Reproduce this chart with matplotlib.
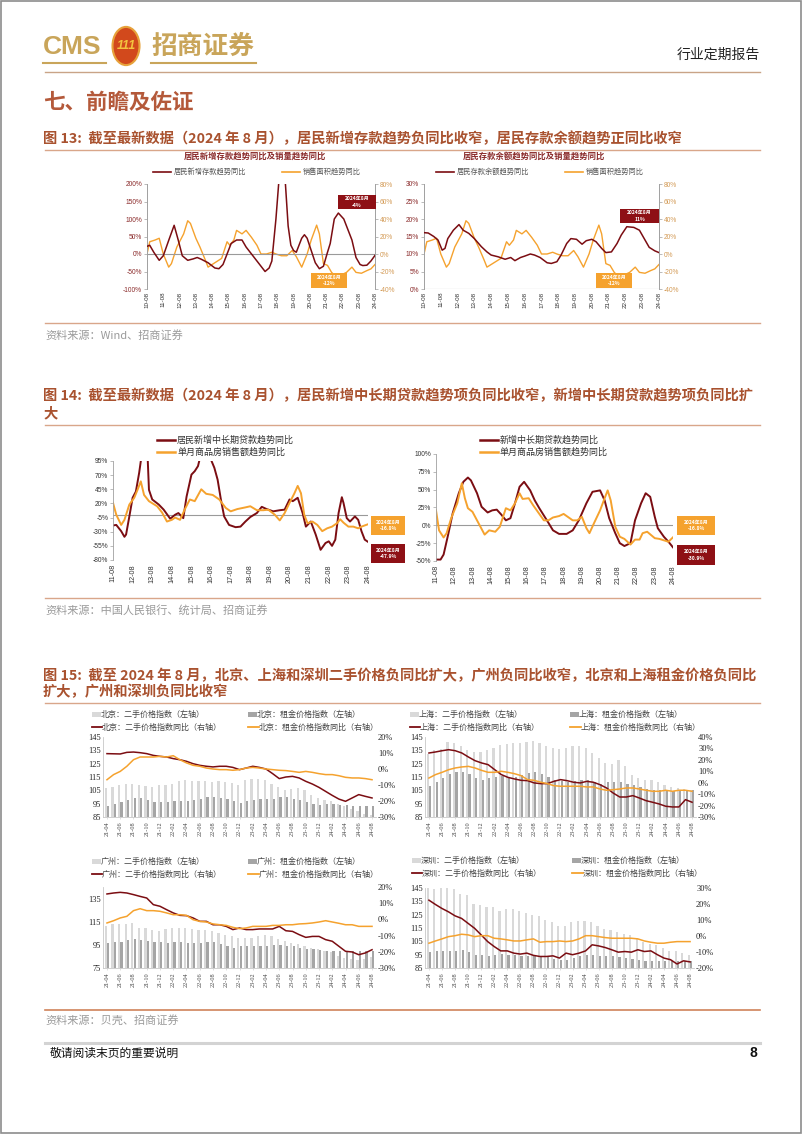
import matplotlib
matplotlib.use("Agg")
import matplotlib.pyplot as plt
from matplotlib.patches import Rectangle, Circle
from matplotlib.lines import Line2D
import numpy as np

plt.rcParams['font.family'] = ['Noto Sans CJK SC', 'DejaVu Sans']
plt.rcParams['axes.unicode_minus'] = False

W, H = 802, 1134
RED = "#7B0D12"
ORANGE = "#F5A22E"
LIGHT = "#D9D9D9"
DARK = "#A5A5A5"
GOLD = "#C9A55A"
TITLE_C = "#A9522F"
TICK_RED = "#8A2A2A"
TICK_ORG = "#D39A55"
NUMF = "Liberation Sans"
SERIF = "Liberation Serif"

# ---------------- data: figure 13 (months since 2010-08) ----------------
labels13 = ["10-08", "11-08", "12-08", "13-08", "14-08", "15-08", "16-08", "17-08",
            "18-08", "19-08", "20-08", "21-08", "22-08", "23-08", "24-08"]
dep_new_m = [0, 2, 5, 9, 12, 16, 20, 23, 26, 30, 34, 37, 40, 45, 50, 53, 56, 58, 62, 66,
             70, 73, 78, 83, 87, 90, 92, 95, 97, 99, 102, 104, 106, 108, 110, 112, 114, 116,
             118, 121, 124, 127, 130, 133, 135, 138, 141, 145, 148, 151, 154, 157, 159, 162,
             165, 168]
dep_new_v = [22, 25, 5, -18, -5, 39, 82, 40, -5, -18, -14, -10, -15, -25, -40, -42, -30, -10,
             30, 40, 40, 20, -5, -30, -50, -40, -20, 100, 200, 300, 200, 80, 25, 10, 5, 25, 45,
             55, 45, 10, -25, -42, -35, 5, 30, 100, 117, 100, 70, 40, -10, -30, -33, -32, -20, -4]
dep_bal_m = [0, 3, 7, 10, 13, 15, 17, 21, 25, 28, 32, 36, 41, 45, 48, 53, 58, 62, 65, 69, 72,
             76, 79, 83, 88, 91, 95, 98, 102, 105, 109, 113, 116, 120, 123, 127, 130, 134, 138,
             141, 145, 150, 154, 158, 161, 165, 168]
dep_bal_v = [16.1, 16.0, 15.0, 14.0, 11.1, 11.6, 14.4, 16.8, 18.4, 16.8, 15.9, 14.4, 12.1,
             10.6, 9.7, 9.2, 8.5, 9.0, 8.1, 9.0, 9.4, 10.0, 9.7, 9.0, 7.5, 7.3, 7.8, 9.7, 13.0,
             14.4, 14.2, 12.8, 13.8, 14.2, 13.5, 11.6, 10.4, 10.6, 13.0, 15.4, 17.8, 17.6, 16.8,
             14.0, 11.9, 10.9, 10.4]
area_m = [0, 2, 6, 9, 12, 16, 18, 22, 27, 30, 32, 36, 39, 43, 45, 49, 53, 55, 59, 61, 64, 66,
          70, 73, 77, 81, 84, 88, 92, 95, 99, 103, 107, 110, 114, 118, 121, 125, 127, 130, 133,
          136, 140, 143, 147, 151, 154, 158, 162, 165, 168]
area_v = [0, 14, 16, 18, 0, -15, -11, 8, 23, 38, 35, 18, 8, -7, -15, -11, -7, -5, 14, 10, 16,
          27, 23, 27, 19, 10, 0, 0, 2, 0, -2, -2, 4, -3, -15, 0, 16, 33, 23, -11, -13, -21, -27,
          -24, -21, -15, -21, -22, -19, -17, -12]

# ---------------- data: figure 14 (months since 2011-08) ----------------
labels14 = ["11-08", "12-08", "13-08", "14-08", "15-08", "16-08", "17-08", "18-08",
            "19-08", "20-08", "21-08", "22-08", "23-08", "24-08"]
hh_loan_m = [0, 2, 5, 7, 8, 10, 12, 14, 16, 18, 21, 22, 24, 28, 31, 35, 38, 40, 43, 45, 48,
             50, 52, 54, 57, 60, 62, 64, 66, 68, 71, 75, 78, 81, 84, 88, 91, 94, 98, 102, 105,
             108, 110, 113, 116, 118, 121, 124, 127, 130, 132, 134, 136, 138, 140, 141, 143,
             145, 148, 150, 152, 154, 156]
hh_loan_v = [-19, -18, -29, -39, -35, -3, 30, 41, 74, 115, 115, 44, 27, 18, 9, -7, 0, 3, -6,
             32, 71, 77, 86, 110, 110, 97, 83, 62, 27, -3, -18, -22, -21, -12, -4, 3, 14, 10, 6,
             8, 9, 27, 24, 30, 3, -21, -12, -35, -62, -50, -47, -55, -44, 3, 31, 21, -6, -12, -3,
             -9, -29, -44, -47.9]
sales_l_m = [0, 2, 5, 7, 10, 13, 15, 17, 19, 22, 27, 30, 33, 36, 38, 41, 44, 47, 50, 54, 57,
             61, 65, 69, 72, 76, 81, 84, 88, 92, 95, 99, 102, 105, 108, 111, 113, 115, 117, 119,
             122, 125, 128, 131, 134, 137, 139, 141, 144, 147, 150, 152, 156]
sales_l_v = [21, 0, -18, -9, 18, 30, 44, 59, 35, 24, 15, 4, -12, -9, -5, -9, 10, 27, 24, 45,
             37, 35, 27, 12, 6, 10, 13, 15, 8, 8, 9, 0, -10, 3, 21, 38, 51, 38, 0, -15, -12, -18,
             -29, -24, -21, -15, -8, -14, -21, -21, -24, -21, -16.8]
mlt_loan_m = [0, 3, 5, 8, 11, 15, 18, 21, 23, 27, 30, 34, 37, 40, 43, 46, 49, 52, 55, 58, 62,
              65, 68, 73, 77, 81, 86, 90, 94, 99, 103, 108, 111, 114, 118, 121, 124, 128, 131,
              135, 138, 141, 144, 146, 150, 153, 156]
mlt_loan_v = [-48, -48, -41, -13, 17, 45, 61, 67, 63, 45, 26, 18, 21, 22, 15, 7, 10, 31, 54,
              61, 49, 35, 24, 7, -7, -12, -12, -7, 7, 31, 47, 49, 35, 10, -11, -25, -29, -25, 7,
              31, 45, 40, 12, -4, -16, -23, -30.9]
sales_r_m = [0, 2, 5, 7, 10, 14, 17, 19, 21, 24, 28, 32, 35, 39, 42, 46, 49, 52, 55, 57, 61,
             64, 67, 71, 74, 77, 81, 84, 88, 90, 93, 96, 99, 101, 104, 108, 111, 113, 115, 118,
             121, 124, 128, 131, 134, 136, 139, 144, 147, 150, 153, 156]
sales_r_v = [21, -7, -17, -11, 10, 31, 59, 38, 24, 19, 3, -13, -7, -9, -2, 24, 21, 31, 45, 37,
             38, 28, 19, 7, 7, 11, 13, 16, 10, 7, 7, 12, -4, -11, 3, 21, 38, 49, 35, -2, -16,
             -19, -27, -20, -20, -11, -9, -18, -19, -21, -23, -16.8]

# ---------------- data: figure 15 (monthly 2021-04 .. 2024-08) ----------------
months15 = [f"{y:02d}-{m:02d}" for y in (21, 22, 23, 24) for m in range(1, 13)
            if (y, m) >= (21, 4) and (y, m) <= (24, 8)]

bj_used = [106.8, 107.5, 109, 110, 110, 109, 108, 107.5, 109, 109, 110, 111.8, 112.5, 111.8,
           111.8, 111.8, 111, 111.8, 111, 110.5, 109, 112.5, 113.5, 113.8, 113, 110, 107.5,
           105.5, 106.3, 106.8, 105, 101.8, 99.3, 98, 96.8, 95, 93, 91, 89.3, 87.5, 86.8]
bj_rent = [93, 94.8, 96, 98, 99.3, 99.3, 98, 96.5, 96, 96, 96.8, 97.3, 97.3, 98, 98.8, 99.8,
           100, 99.3, 98.5, 96.8, 95.5, 96.8, 98, 98.5, 98.8, 98.5, 99.8, 99.8, 98.8, 97.5, 96,
           95, 94, 94.5, 94.8, 94.3, 93.8, 93.5, 93.5, 93.5, 93]
bj_used_yoy = [9.6, 9.5, 9.4, 10.4, 10.6, 10.2, 9.6, 8.5, 7.9, 7.5, 6.5, 5.8, 4.8, 3.3, 2.3,
               1.7, 1.3, 1.7, 1.7, 1.0, -0.4, 0.6, 1.7, 1.0, 0, -2.9, -6.0, -5.0, -4.6, -5.6,
               -7.7, -9.4, -11.5, -14.0, -16.5, -18.8, -20.2, -18.1, -16.0, -17.1, -18.1]
bj_rent_yoy = [-6.7, -3.5, -1.5, 1.7, 5.8, 7.5, 7.5, 7.5, 7.9, 7.5, 8.3, 5.8, 3.8, 2.3, 1.7,
               0.6, 0, -0.4, -0.4, -0.8, -0.4, 0.6, 1.0, 0.6, 0, -0.4, -0.8, -1.0, -1.5, -2.1,
               -1.5, -2.1, -2.9, -3.5, -3.5, -4.2, -5.2, -5.6, -5.6, -6.0, -6.7]

sh_used = [132, 135.5, 136, 141, 140.5, 138, 135.5, 134, 133.8, 135.5, 136.8, 139, 139.8,
           140.5, 140.5, 141.3, 141.8, 140.5, 138, 136.8, 136, 136.8, 138, 138.5, 136.8, 133,
           129.3, 125.5, 124.8, 127.5, 123, 116.8, 114.3, 113, 113, 111, 109.3, 107.5, 106.8,
           106.3, 105]
sh_rent = [108.5, 111, 114, 117, 119, 118.5, 117, 114.5, 113, 114, 115, 115.5, 114, 115,
           116.5, 118, 119, 117.5, 115, 113, 112, 111, 112, 113, 113, 111, 110, 111.5, 111.5,
           111, 110, 109, 107.5, 106, 105.5, 105.5, 105, 104.5, 104.5, 105, 105]
sh_used_yoy = [26, 26.9, 28, 28.9, 28, 26, 22.5, 19.3, 17.3, 15.8, 11.4, 7.1, 4.7, 3.3, 2.1,
               1.8, -0.2, -0.8, -0.8, 1.2, 2.7, 1.8, 0.4, -0.2, 1.2, 0.4, -1.7, -4.6, -9.0,
               -12.5, -12.5, -11.3, -13.4, -15.7, -17.1, -18.6, -20.6, -21.2, -21.2, -14.8, -17.1]
sh_rent_yoy = [4.1, 7.1, 9.1, 11.4, 12.9, 13.8, 14.3, 12.9, 10.8, 9.1, 9.1, 10, 9.1, 7.9,
               6.2, 2.7, 2.1, 0.4, -0.8, -2.6, -3.1, -3.1, -3.1, -3.1, -3.7, -3.7, -5.5, -6.6,
               -6.1, -5.5, -4.6, -4.6, -5.5, -6.6, -7.5, -7.5, -6.6, -7.5, -6.6, -6.6, -7.5]

gz_used = [111.3, 112.7, 112.7, 113.3, 113.6, 109.9, 109.3, 107.6, 107, 108.4, 109.3, 109.9,
           109.9, 108.4, 107.6, 107.6, 107, 105.6, 103.6, 102.7, 101.3, 100.7, 101.3, 102.7,
           103.6, 102.7, 100.4, 98.4, 97, 95.6, 94.1, 92.7, 91.3, 89.9, 88.4, 85.6, 83.6, 82.7,
           81.9, 82.7, 84.1]
gz_rent = [97, 97.3, 97.3, 99.3, 100.1, 99.3, 98.4, 97.9, 97.3, 97, 97.9, 97.9, 97, 96.4, 97,
           97.9, 97.3, 95.6, 93.6, 92.7, 93.6, 94.4, 94.1, 93.6, 94.1, 95, 95, 94.1, 93.6, 92.7,
           91.6, 91.3, 90.7, 89.9, 89.9, 89.3, 89.3, 89.3, 89.3, 89.9, 89.9]
gz_used_yoy = [15.7, 16.3, 16.7, 16.3, 15.3, 14.2, 13.2, 9.1, 8.1, 6, 4, 2.5, 2.3, 0.9, -1.2,
               -1.2, -3.3, -3.3, -4.3, -6.3, -5.3, -6.3, -6.3, -5.9, -5.9, -5.9, -4.3, -7, -7.4,
               -9.4, -11.1, -10.5, -10.5, -12.5, -13.5, -16.6, -19.7, -20.1, -21.8, -20.7, -18.7]
gz_rent_yoy = [-2.2, -0.8, 0.9, 1.9, 5.4, 6.6, 5.4, 5.4, 5, 4, 2.9, 2.9, 2.5, -0.2, -1.2, -1.6,
               -2.8, -3.3, -3.7, -4.9, -5.7, -5.3, -4.3, -4.3, -4.3, -3.7, -3.7, -3.3, -3.3, -2.8,
               -2.6, -2.2, -1.6, -0.8, -1.6, -2.4, -3.3, -3.3, -4.3, -4.3, -4.3]

sz_used = [145, 144.5, 146, 146, 144.5, 140.8, 139.5, 133.3, 132.6, 130.9, 130.9, 127.6, 129.1,
           129.1, 127.6, 126.6, 125.1, 124.2, 120.9, 119.2, 116.7, 116.5, 119.2, 120.2, 120.2,
           119.7, 116.7, 114.2, 113.5, 111.8, 110.3, 109.8, 107.3, 104.8, 103.1, 102.3, 99.9,
           97.9, 97.4, 96.1, 94.9]
sz_rent = [96.8, 97.4, 97.9, 97.4, 97.9, 98.6, 96.9, 94.9, 94.4, 94.2, 94.9, 95.4, 94.9, 94.4,
           94.2, 93.7, 93.7, 93.7, 92.9, 91.9, 91.2, 91.2, 92.4, 93.7, 94.4, 94.4, 94.2, 93.7,
           93.7, 92.9, 92.4, 91.7, 91.2, 90.4, 90.4, 90.4, 89.9, 89.9, 89.9, 90.4, 90.4]
sz_used_yoy = [22.4, 19.7, 17.2, 15.1, 12.6, 11, 7.9, 4.8, 0.7, -3.5, -6.6, -9.3, -9.3, -10.7,
               -11.3, -10.7, -12.1, -12.8, -12.8, -12.4, -13.8, -10.7, -11.7, -10.7, -9.3, -5.5,
               -6.2, -7.2, -8.6, -10.1, -9.7, -10.1, -8.6, -9.7, -9.3, -11.7, -13.8, -14.8,
               -17.5, -15.5, -16.2]
sz_rent_yoy = [-4.5, -3.1, -1.8, -0.4, 0.2, 1.1, 0.7, -0.4, 0.2, 0.2, -1.4, -1.8, -2.4, -3.1,
               -3.1, -2.4, -1.8, -3.9, -3.5, -3.5, -3.1, -3.5, -3.1, -1.8, 0.2, 0.2, -0.4, -1,
               -1.4, -1.4, -1.4, -1.4, -1.8, -3.1, -3.9, -4.5, -4.5, -3.9, -3.5, -3.5, -3.5]

fig = plt.figure(figsize=(W / 100, H / 100), dpi=100)


def rect(x0, y0, x1, y1):
    return [x0 / W, 1 - y1 / H, (x1 - x0) / W, (y1 - y0) / H]


def ftext(x, y, s, **kw):
    fig.text(x / W, 1 - y / H, s, **kw)


def hline(y, x0=45, x1=760, color="#D9A68A", lw=1.0):
    fig.add_artist(Line2D([x0 / W, x1 / W], [1 - y / H, 1 - y / H], color=color, lw=lw))


def seg(x0, x1, y, color, lw):
    fig.add_artist(Line2D([x0 / W, x1 / W], [1 - y / H, 1 - y / H], color=color, lw=lw))


def patch(x0, x1, y, color, h=5):
    fig.add_artist(Rectangle((x0 / W, 1 - (y + h / 2) / H), (x1 - x0) / W, h / H,
                             transform=fig.transFigure, facecolor=color, edgecolor="none"))


def tag(x0, y0, x1, y1, color, label):
    fig.add_artist(Rectangle((x0 / W, 1 - y1 / H), (x1 - x0) / W, (y1 - y0) / H,
                             transform=fig.transFigure, facecolor=color, edgecolor="none",
                             zorder=5))
    ftext((x0 + x1) / 2, (y0 + y1) / 2, label, ha="center", va="center", color="white",
          fontsize=3.6, fontweight="bold", linespacing=1.4, zorder=6)


# ---------------- page header ----------------
fig.add_artist(Rectangle((0.001, 0.001), 0.998, 0.998, transform=fig.transFigure,
                         facecolor="none", edgecolor="#8C8C8C", lw=1.2))
ftext(43, 47, "CMS", family=NUMF, fontsize=19, fontweight="bold", color=GOLD, va="center")
fig.add_artist(Circle((126 / W, 1 - 46 / H), 13.5 / W, transform=fig.transFigure,
                      facecolor="#D2491C", edgecolor="#E7A23B", lw=1.5))
ftext(126, 46, "111", family=NUMF, fontsize=9, fontweight="bold", style="italic",
      color="#F3C33F", ha="center", va="center")
ftext(151, 46, "招商证券", fontsize=18.5, fontweight="bold", color=GOLD, va="center")
seg(43, 106, 63, GOLD, 1.5)
seg(151, 256, 63, GOLD, 1.5)
ftext(760, 55, "行业定期报告", fontsize=10, color="#222222", ha="right", va="center")
hline(72, color="#C9A487", lw=1.0)
ftext(43, 102, "七、前瞻及佐证", fontsize=15.5, fontweight="bold", color="#B4593A", va="center")

TFS = 10.3

# ---------------- figure 13 ----------------
ftext(43, 139, "图 13:  截至最新数据（2024 年 8 月），居民新增存款趋势负同比收窄，居民存款余额趋势正同比收窄",
      fontsize=TFS, fontweight="bold", color=TITLE_C, va="center")
hline(150)


def chart13(px, m1, v1, lim1, ticks1, title, name1, tx, lx1, lx2, tags):
    ax = fig.add_axes(rect(*px))
    ax2 = ax.twinx()
    ax.plot(m1, v1, color=RED, lw=1.1, zorder=3)
    ax2.plot(area_m, area_v, color=ORANGE, lw=1.0)
    ax.set_zorder(ax2.get_zorder() + 1)
    ax.patch.set_visible(False)
    ax.set_xlim(0, 168)
    ax.set_ylim(*lim1)
    ax2.set_ylim(-40, 80)
    ax.set_yticks(ticks1)
    ax.set_yticklabels([f"{t}%" for t in ticks1], fontsize=4.8, color=TICK_RED, family=NUMF)
    ax2.set_yticks(range(-40, 81, 20))
    ax2.set_yticklabels([f"{t}%" for t in range(-40, 81, 20)], fontsize=4.8, color=TICK_ORG,
                        family=NUMF)
    ax.set_xticks(range(0, 169, 12))
    ax.set_xticklabels(labels13, rotation=90, fontsize=4.5, family=NUMF, color="#333333")
    ax.axhline(0, color="#9A9A9A", lw=0.8, zorder=1)
    for a in (ax, ax2):
        for s in ("top", "bottom"):
            a.spines[s].set_visible(False)
        a.spines["left"].set_color("#A0A0A0")
        a.spines["right"].set_color("#A0A0A0")
        a.spines["left"].set_linewidth(0.6)
        a.spines["right"].set_linewidth(0.6)
        a.tick_params(length=2, width=0.5, color="#A0A0A0", pad=1.5)
    ax.tick_params(axis="x", length=0, pad=2)
    ftext(tx, 156, title, fontsize=6, fontweight="bold", color=TICK_RED, ha="center",
          va="center")
    seg(lx1, lx1 + 18, 172, RED, 1.2)
    ftext(lx1 + 21, 172, name1, fontsize=5.2, color="#555555", va="center")
    seg(lx2, lx2 + 18, 172, ORANGE, 1.2)
    ftext(lx2 + 21, 172, "销售面积趋势同比", fontsize=5.2, color="#555555", va="center")
    for t in tags:
        tag(*t)


chart13((147, 184, 375, 289), dep_new_m, dep_new_v, (-100, 200), list(range(-100, 201, 50)),
        "居民新增存款趋势同比及销量趋势同比", "居民新增存款趋势同比", 255, 153, 282,
        [(338, 195, 376, 209, "#8E1015", "2024年8月\n-4%"),
         (311, 273, 347, 288, ORANGE, "2024年8月\n-12%")])
chart13((424, 184, 659, 289), dep_bal_m, dep_bal_v, (0, 30), list(range(0, 31, 5)),
        "居民存款余额趋势同比及销量趋势同比", "居民存款余额趋势同比", 534, 436, 565,
        [(620, 209, 659, 223, "#8E1015", "2024年8月\n11%"),
         (596, 273, 632, 288, ORANGE, "2024年8月\n-12%")])

hline(323)
ftext(45, 335, "资料来源：Wind、招商证券", fontsize=8, color="#9A9A9A", va="center")

# ---------------- figure 14 ----------------
ftext(43, 396, "图 14:  截至最新数据（2024 年 8 月），居民新增中长期贷款趋势项负同比收窄，新增中长期贷款趋势项负同比扩",
      fontsize=TFS, fontweight="bold", color=TITLE_C, va="center")
ftext(43, 413, "大", fontsize=TFS, fontweight="bold", color=TITLE_C, va="center")
hline(425)


def chart14(px, m1, v1, m2, v2, lim, ticks, name1, lx, tags):
    ax = fig.add_axes(rect(*px))
    ax.plot(m1, v1, color=RED, lw=1.4, label=name1)
    ax.plot(m2, v2, color=ORANGE, lw=1.4, label="单月商品房销售额趋势同比")
    ax.set_xlim(0, 156)
    ax.set_ylim(*lim)
    ax.set_yticks(ticks)
    ax.set_yticklabels([f"{t}%" for t in ticks], fontsize=4.8, family=NUMF, color="#333333")
    ax.set_xticks(range(0, 157, 12))
    ax.set_xticklabels(labels14, rotation=90, fontsize=5.2, family=NUMF, color="#333333")
    ax.axhline(0, color="#9A9A9A", lw=0.8, zorder=1)
    for s in ("top", "bottom", "right"):
        ax.spines[s].set_visible(False)
    ax.spines["left"].set_color("#A0A0A0")
    ax.spines["left"].set_linewidth(0.6)
    ax.tick_params(axis="y", length=2, width=0.5, color="#A0A0A0", pad=1.5)
    ax.tick_params(axis="x", length=0, pad=3)
    seg(lx, lx + 18, 440, RED, 1.8)
    ftext(lx + 20, 440, name1, fontsize=6.5, color="#333333", va="center")
    seg(lx, lx + 18, 452, ORANGE, 1.8)
    ftext(lx + 20, 452, "单月商品房销售额趋势同比", fontsize=6.5, color="#333333", va="center")
    for t in tags:
        tag(*t)


chart14((113, 461, 368, 560), hh_loan_m, hh_loan_v, sales_l_m, sales_l_v, (-80, 95),
        list(range(-80, 96, 25)), "居民新增中长期贷款趋势同比", 157,
        [(371, 516, 405, 535, ORANGE, "2024年8月\n-16.8%"),
         (371, 544, 405, 563, "#8E1015", "2024年8月\n-47.9%")])
chart14((436, 454, 673, 561), mlt_loan_m, mlt_loan_v, sales_r_m, sales_r_v, (-50, 100),
        list(range(-50, 101, 25)), "新增中长期贷款趋势同比", 480,
        [(677, 516, 715, 535, ORANGE, "2024年8月\n-16.8%"),
         (677, 545, 715, 565, "#8E1015", "2024年8月\n-30.9%")])

hline(598)
ftext(45, 610, "资料来源：中国人民银行、统计局、招商证券", fontsize=8, color="#9A9A9A", va="center")

# ---------------- figure 15 ----------------
ftext(43, 676, "图 15:  截至 2024 年 8 月，北京、上海和深圳二手价格负同比扩大，广州负同比收窄，北京和上海租金价格负同比",
      fontsize=TFS, fontweight="bold", color=TITLE_C, va="center")
ftext(43, 692, "扩大，广州和深圳负同比收窄", fontsize=TFS, fontweight="bold", color=TITLE_C,
      va="center")
hline(703)


def chart15(px, city, used, rent, used_yoy, rent_yoy, llim, lticks, rlim, rticks, lx, lx2, ly):
    x = np.arange(len(months15))
    ax = fig.add_axes(rect(*px))
    ax.bar(x - 0.18, used, width=0.34, color=LIGHT, zorder=2)
    ax.bar(x + 0.18, rent, width=0.34, color=DARK, zorder=2)
    ax.set_xlim(-0.6, len(months15) - 0.4)
    ax.set_ylim(*llim)
    ax.set_yticks(lticks)
    ax.set_yticklabels([str(t) for t in lticks], fontsize=6, family=SERIF, color="#222222")
    ax.set_xticks(x[::2])
    ax.set_xticklabels(months15[::2], rotation=90, fontsize=4.5, family=SERIF,
                       color="#444444")
    ax2 = ax.twinx()
    ax2.plot(x, used_yoy, color=RED, lw=1.1)
    ax2.plot(x, rent_yoy, color=ORANGE, lw=1.1)
    ax2.set_ylim(*rlim)
    ax2.set_yticks(rticks)
    ax2.set_yticklabels([f"{t}%" for t in rticks], fontsize=6, family=SERIF, color="#222222")
    for a in (ax, ax2):
        for s in ("top", "right"):
            a.spines[s].set_visible(False)
        a.spines["left"].set_color("#C8C8C8")
        a.spines["bottom"].set_color("#C8C8C8")
        a.spines["left"].set_linewidth(0.6)
        a.spines["bottom"].set_linewidth(0.6)
        a.tick_params(length=0, pad=1.5)
    ax2.spines["left"].set_visible(False)
    ax2.spines["bottom"].set_visible(False)
    ax.tick_params(axis="x", length=1.5, width=0.4, color="#C8C8C8", pad=1.5)
    fs = 5.8
    patch(lx, lx + 9, ly, LIGHT)
    ftext(lx + 9, ly, f"{city}：二手价格指数（左轴）", fontsize=fs, color="#444444", va="center")
    patch(lx2, lx2 + 9, ly, DARK)
    ftext(lx2 + 9, ly, f"{city}：租金价格指数（左轴）", fontsize=fs, color="#444444", va="center")
    seg(lx, lx + 10, ly + 13, RED, 1.3)
    ftext(lx + 10, ly + 13, f"{city}：二手价格指数同比（右轴）", fontsize=fs, color="#444444",
          va="center")
    seg(lx2, lx2 + 11, ly + 13, ORANGE, 1.3)
    ftext(lx2 + 11, ly + 13, f"{city}：租金价格指数同比（右轴）", fontsize=fs, color="#444444",
          va="center")


chart15((103, 737, 376, 817), "北京", bj_used, bj_rent, bj_used_yoy, bj_rent_yoy,
        (85, 145), list(range(85, 146, 10)), (-30, 20), list(range(-30, 21, 10)), 92, 248, 714)
chart15((425, 737, 696, 817), "上海", sh_used, sh_rent, sh_used_yoy, sh_rent_yoy,
        (85, 145), list(range(85, 146, 10)), (-30, 40), list(range(-30, 41, 10)), 410, 570, 714)
chart15((103, 887, 376, 968), "广州", gz_used, gz_rent, gz_used_yoy, gz_rent_yoy,
        (75, 145), [75, 95, 115, 135], (-30, 20), list(range(-30, 21, 10)), 92, 248, 861)
chart15((425, 888, 694, 968), "深圳", sz_used, sz_rent, sz_used_yoy, sz_rent_yoy,
        (85, 145), list(range(85, 146, 10)), (-20, 30), list(range(-20, 31, 10)), 412, 572, 860)

hline(1010, color="#D0835A", lw=1.2)
ftext(45, 1020, "资料来源：贝壳、招商证券", fontsize=8, color="#9A9A9A", va="center")

# ---------------- footer ----------------
hline(1043, color="#D3D3D3", lw=2.2)
ftext(50, 1053, "敬请阅读末页的重要说明", fontsize=8.5, color="#111111", va="center")
ftext(757, 1053, "8", fontsize=10, fontweight="bold", family=NUMF, color="#111111",
      ha="right", va="center")

fig.savefig("out.png", dpi=100)
